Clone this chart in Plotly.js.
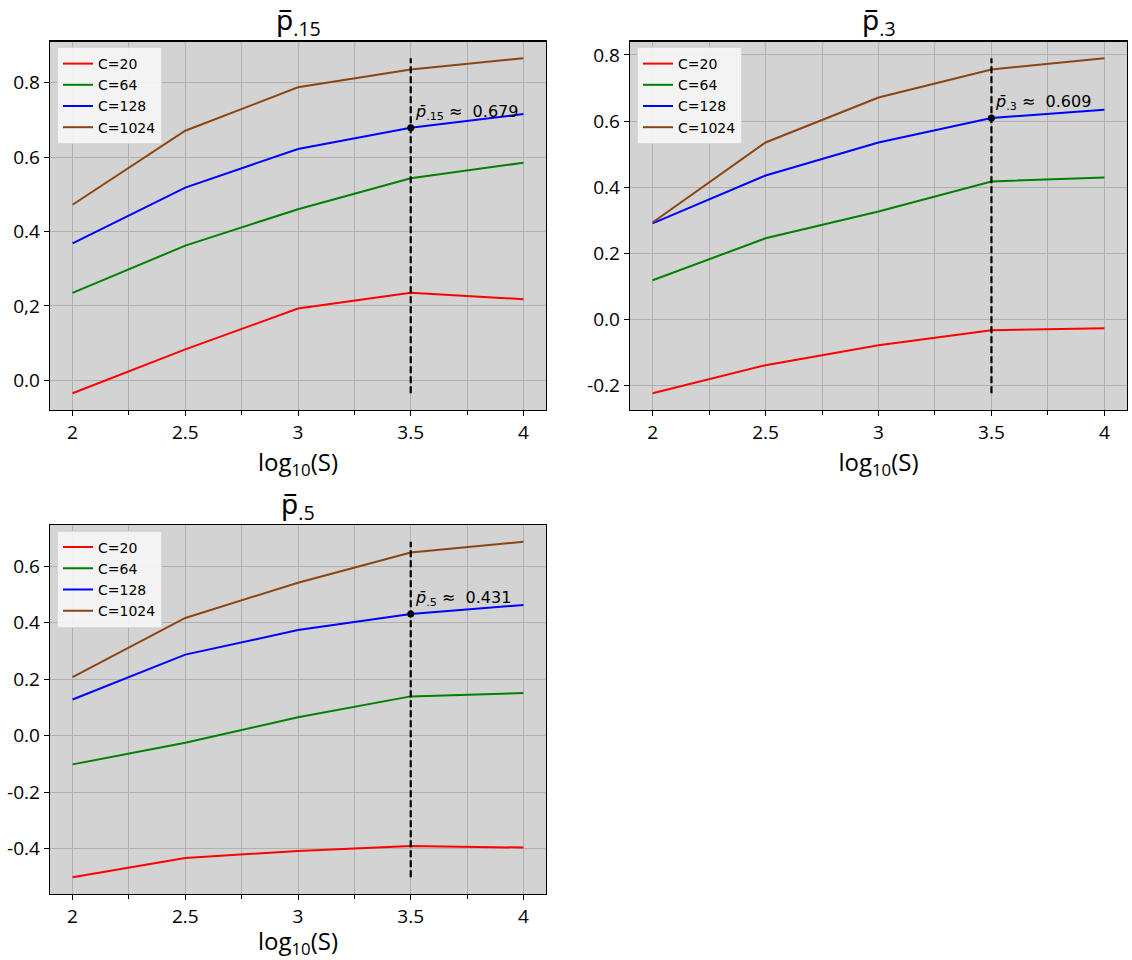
<!DOCTYPE html>
<html>
<head>
<meta charset="utf-8">
<script src="https://cdn.plot.ly/plotly-3.0.1.min.js"></script>
<style>html,body{margin:0;padding:0;background:#fff;} #chart{width:1132px;height:960px;}</style>
</head>
<body>
<div id="chart"></div>
<script>
// ---- data ----
const logS = [2, 2.5, 3, 3.5, 4];
const seriesNames = ['C=20', 'C=64', 'C=128', 'C=1024'];
const seriesColors = ['#ff0000', '#008000', '#0000ff', '#8b4513'];

const p15_C20   = [-0.035, 0.083, 0.193, 0.235, 0.218];
const p15_C64   = [0.235, 0.362, 0.460, 0.543, 0.585];
const p15_C128  = [0.368, 0.518, 0.622, 0.679, 0.716];
const p15_C1024 = [0.472, 0.671, 0.788, 0.836, 0.866];

const p3_C20   = [-0.224, -0.139, -0.079, -0.033, -0.027];
const p3_C64   = [0.118, 0.245, 0.326, 0.417, 0.429];
const p3_C128  = [0.290, 0.435, 0.535, 0.609, 0.634];
const p3_C1024 = [0.293, 0.535, 0.671, 0.756, 0.790];

const p5_C20   = [-0.502, -0.434, -0.409, -0.391, -0.397];
const p5_C64   = [-0.102, -0.025, 0.065, 0.139, 0.151];
const p5_C128  = [0.128, 0.287, 0.374, 0.431, 0.463];
const p5_C1024 = [0.207, 0.417, 0.542, 0.649, 0.687];

const markX = 3.5;
const markValues = [0.679, 0.609, 0.431];
const subLabels = ['.15', '.3', '.5'];

const p15_ticks = [0.0, 0.2, 0.4, 0.6, 0.8];
const p15_tickText = ['0.0', '0,2', '0.4', '0.6', '0.8'];
const p3_ticks = [-0.2, 0.0, 0.2, 0.4, 0.6, 0.8];
const p3_tickText = ['-0.2', '0.0', '0.2', '0.4', '0.6', '0.8'];
const p5_ticks = [-0.4, -0.2, 0.0, 0.2, 0.4, 0.6];
const p5_tickText = ['-0.4', '-0.2', '0.0', '0.2', '0.4', '0.6'];
const xTicks = [2, 2.5, 3, 3.5, 4];
const xTickText = ['2', '2.5', '3', '3.5', '4'];

const panels = [
  {series: [p15_C20, p15_C64, p15_C128, p15_C1024], ticks: p15_ticks, tickText: p15_tickText},
  {series: [p3_C20, p3_C64, p3_C128, p3_C1024], ticks: p3_ticks, tickText: p3_tickText},
  {series: [p5_C20, p5_C64, p5_C128, p5_C1024], ticks: p5_ticks, tickText: p5_tickText},
];

// ---- layout geometry (pixels) ----
const W = 1132, H = 960;
const boxes = [
  {l: 50, r: 546, t: 41.5, b: 410},
  {l: 630, r: 1127, t: 41.5, b: 410},
  {l: 50, r: 546, t: 525, b: 894},
];

const tickFont = {family: 'Open Sans, Noto Sans, sans-serif', size: 19, color: '#000'};
const traces = [];
const layout = {
  width: W, height: H,
  margin: {l: 0, r: 0, t: 0, b: 0},
  paper_bgcolor: '#ffffff',
  plot_bgcolor: '#d3d3d3',
  showlegend: true,
  annotations: [],
  font: {family: 'DejaVu Sans, sans-serif', color: '#000'},
};

panels.forEach((p, i) => {
  const n = i === 0 ? '' : String(i + 1);
  const xa = 'x' + n, ya = 'y' + n;
  const legName = i === 0 ? 'legend' : 'legend' + (i + 1);
  const all = [].concat(...p.series);
  const mn = Math.min(...all), mx = Math.max(...all);
  const pad = (mx - mn) * 0.05;
  const bx = boxes[i];

  p.series.forEach((s, k) => {
    traces.push({
      x: logS, y: s, type: 'scatter', mode: 'lines', name: seriesNames[k],
      line: {color: seriesColors[k], width: 2},
      xaxis: xa, yaxis: ya, legend: legName, hoverinfo: 'skip'
    });
  });
  // dashed vertical line across data span
  traces.push({
    x: [markX, markX], y: [mn, mx], type: 'scatter', mode: 'lines',
    line: {color: '#000', width: 2.2, dash: '7px,3px'}, showlegend: false,
    xaxis: xa, yaxis: ya, hoverinfo: 'skip'
  });
  traces.push({
    x: [markX], y: [markValues[i]], type: 'scatter', mode: 'markers',
    marker: {color: '#000', size: 7}, showlegend: false,
    xaxis: xa, yaxis: ya, hoverinfo: 'skip'
  });

  layout['xaxis' + n] = {
    domain: [bx.l / W, bx.r / W], anchor: ya,
    range: [1.9, 4.1],
    tickvals: xTicks, ticktext: xTickText,
    ticks: 'outside', ticklen: 5, tickwidth: 1, tickcolor: '#000',
    tickfont: tickFont,
    showgrid: true, gridcolor: '#b0b0b0', gridwidth: 1,
    minor: {dtick: 0.25, tick0: 2, ticks: 'outside', ticklen: 4, tickcolor: '#000', showgrid: true, gridcolor: '#b0b0b0', gridwidth: 1},
    showline: true, linecolor: '#000', linewidth: 1.3, mirror: true,
    zeroline: false,
    title: {text: 'log<sub>10</sub>(S)', font: {family: 'Open Sans, Noto Sans, sans-serif', size: 24, color: '#000'}, standoff: 0},
  };
  layout['yaxis' + n] = {
    domain: [1 - bx.b / H, 1 - bx.t / H], anchor: xa,
    range: [mn - pad, mx + pad],
    tickvals: p.ticks, ticktext: p.tickText,
    ticks: 'outside', ticklen: 5, tickwidth: 1, tickcolor: '#000',
    tickfont: tickFont,
    showgrid: true, gridcolor: '#b0b0b0', gridwidth: 1,
    showline: true, linecolor: '#000', linewidth: 1.3, mirror: true,
    zeroline: false,
  };
  layout[legName] = {
    x: (bx.l + 7) / W, y: 1 - (bx.t + 5.5) / H, xanchor: 'left', yanchor: 'top',
    xref: 'paper', yref: 'paper',
    bgcolor: 'rgba(245,245,245,0.92)', bordercolor: '#d8d8d8', borderwidth: 1,
    font: {family: 'DejaVu Sans, sans-serif', size: 14, color: '#000'},
    tracegroupgap: 0, itemwidth: 30,
  };
  // subplot title
  layout.annotations.push({
    x: (bx.l + bx.r) / 2 / W, y: 1 - (bx.t - 20) / H, xref: 'paper', yref: 'paper',
    xanchor: 'center', yanchor: 'middle', showarrow: false,
    text: 'p\u0305<sub>' + subLabels[i] + '</sub>',
    font: {family: 'Open Sans, Noto Sans, sans-serif', size: 28, color: '#000'},
  });
  // value annotation
  layout.annotations.push({
    x: markX, y: markValues[i], xref: xa, yref: ya,
    xanchor: 'left', yanchor: 'bottom', showarrow: false, xshift: 2, yshift: 3,
    text: '<i>p\u0304</i><sub>' + subLabels[i] + '</sub> \u2248  ' + markValues[i].toFixed(3),
    font: {family: 'DejaVu Sans, sans-serif', size: 16, color: '#000'},
  });
});

Plotly.newPlot('chart', traces, layout, {staticPlot: true, displayModeBar: false});
</script>
</body>
</html>
